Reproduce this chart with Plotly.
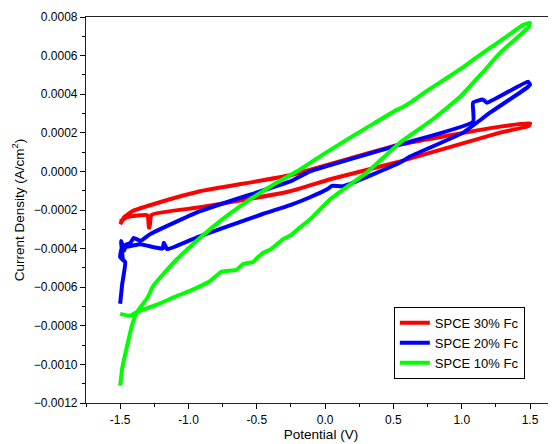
import plotly.graph_objects as go

# Potential (V) and current density (x1e-4 A/cm^2)
red_v = [-1.5, -1.47, -1.41, -1.21, -0.915, -0.256, 0.549, 1.28, 1.5,
         1.49, 1.28, 0.549, 0.037, -0.256, -0.915, -1.27, -1.285, -1.29, -1.30, -1.45, -1.5]
red_j = [-2.74, -2.37, -2.06, -1.6, -1.03, -0.2, 1.39, 2.32, 2.5,
         2.35, 2.01, 0.52, -0.41, -1.03, -1.86, -2.25, -2.9, -2.9, -2.27, -2.37, -2.6]

blue_v = [-1.5, -1.485, -1.463, -1.5, -1.49, -1.48, -1.493, -1.47, -1.46, -1.427, -1.40, -1.35,
          -1.28, -0.915, -0.256, -0.11, 0.549, 1.083, 1.083, 1.156, 1.185, 1.485, 1.5,
          1.478, 1.207, 1.01, 0.622, 0.549, 0.132, 0.05, 0.015, -0.11, -0.256, -0.461,
          -0.915, -1.156, -1.18, -1.19, -1.354, -1.463, -1.49]
blue_j = [-6.86, -5.83, -4.70, -4.44, -4.0, -4.6, -3.61, -4.1, -3.8, -3.72, -3.45, -3.6,
          -3.25, -2.06, -0.52, 0.0, 1.39, 2.58, 3.56, 3.72, 3.56, 4.65, 4.5,
          4.34, 3.04, 2.01, 0.77, 0.46, -0.77, -0.75, -0.93, -1.34, -1.75, -2.22,
          -3.35, -4.03, -3.7, -4.0, -3.77, -3.92, -3.9]

green_v = [-1.5, -1.485, -1.449, -1.41, -1.376, -1.3, -1.259, -1.17, -1.083, -0.96, -0.841,
           -0.7, -0.549, -0.37, -0.183, 0.0, 0.183, 0.36, 0.527, 0.56, 0.622, 0.75, 0.893,
           1.0, 1.083, 1.207, 1.3, 1.376, 1.45, 1.5,
           1.49, 1.4, 1.28, 1.15, 0.988, 0.78, 0.549, 0.307, 0.17, 0.037, -0.11, -0.2, -0.25,
           -0.307, -0.4, -0.45, -0.5, -0.527, -0.6, -0.65, -0.717, -0.76, -0.841, -0.96,
           -1.083, -1.23, -1.376, -1.427, -1.5]
green_j = [-11.1, -10.2, -9.03, -7.9, -7.28, -6.55, -5.94, -5.2, -4.54, -3.72, -2.99,
           -2.2, -1.45, -0.65, 0.10, 0.95, 1.75, 2.5, 3.2, 3.3, 3.56, 4.2, 4.85,
           5.35, 5.78, 6.4, 6.85, 7.23, 7.6, 7.69,
           7.48, 6.9, 6.14, 5.1, 3.87, 2.65, 1.5, -0.05, -0.75, -1.45, -2.48, -3.0, -3.3,
           -3.51, -4.05, -4.2, -4.5, -4.70, -4.8, -5.1, -5.16, -5.2, -5.68, -6.1,
           -6.45, -6.9, -7.28, -7.48, -7.38]

x_ticks = [-1.5, -1.0, -0.5, 0.0, 0.5, 1.0, 1.5]
x_labels = ["-1.5", "-1.0", "-0.5", "0.0", "0.5", "1.0", "1.5"]

series = [
    ("SPCE 30% Fc", red_v, red_j, "#ff0000"),
    ("SPCE 20% Fc", blue_v, blue_j, "#0000ff"),
    ("SPCE 10% Fc", green_v, green_j, "#00ff00"),
]

fig = go.Figure()
for name, v, j, c in series:
    fig.add_trace(go.Scatter(x=v, y=[val * 1e-4 for val in j], mode="lines", name=name,
                             line=dict(color=c, width=4, shape="spline", smoothing=0.4)))

font = dict(family="Liberation Sans, Arial, sans-serif", color="black")
# page body adds an 8 px offset, so the figure is 8 px smaller and shifted margins
fig.update_layout(
    width=548, height=436,
    margin=dict(l=78, r=0, t=9, b=41),
    paper_bgcolor="white", plot_bgcolor="white",
    font=dict(size=12, **font),
    xaxis=dict(range=[-1.75, 1.69], tickvals=x_ticks, ticktext=x_labels,
               ticks="outside", ticklen=5, tickcolor="black", showline=True, linecolor="#222",
               linewidth=1.2, mirror=True, showgrid=False, zeroline=False, automargin=False,
               minor=dict(dtick=0.25, tick0=0, ticks="outside", ticklen=3, tickcolor="black"),
               title=dict(text="Potential (V)", font=dict(size=13.5), standoff=4)),
    yaxis=dict(range=[-0.0012, 0.0008], dtick=0.0002, tickformat=".4f",
               ticks="outside", ticklen=5, tickcolor="black", showline=True, linecolor="#222",
               linewidth=1.2, showgrid=False, zeroline=False, automargin=False,
               minor=dict(dtick=0.0001, ticks="outside", ticklen=3, tickcolor="black"),
               title=dict(text="Current Density (A/cm<sup>2</sup>)", font=dict(size=13.5), standoff=6)),
    legend=dict(x=0.655, y=0.249, xanchor="left", yanchor="top", bordercolor="black",
                borderwidth=1, bgcolor="white", font=dict(size=13), tracegroupgap=0,
                itemwidth=30),
    showlegend=True,
)

fig.write_html("out.html")
